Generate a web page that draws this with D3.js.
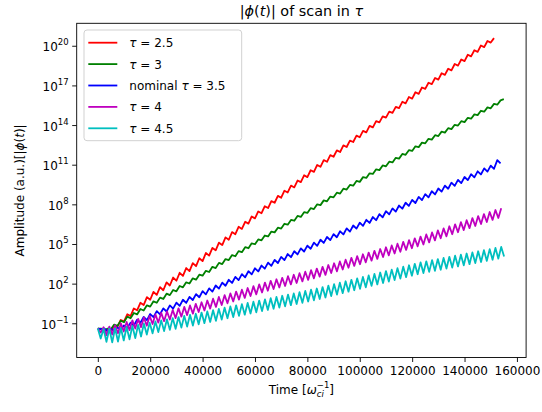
<!DOCTYPE html>
<html>
<head>
<meta charset="utf-8">
<script src="https://cdn.jsdelivr.net/npm/d3@7"></script>
<style>
  body { margin: 0; background: #fff; }
  text { font-family: "DejaVu Sans", sans-serif; fill: #000; }
</style>
</head>
<body>
<div id="chart"></div>
<script>
// sampling interval (time units) of each series
let redStep = 1250;
let greenStep = 1250;
let blueStep = 1250;
let magentaStep = 1100;
let cyanStep = 1100;

// log10 |phi(t)|
let redLog = [-1.40,-1.45,-1.60,-1.50,-1.52,-1.20,-1.25,-0.75,-0.85,-0.32,
  -0.45,0.12,-0.02,0.55,0.38,0.98,0.78,1.38,1.15,1.74,
  1.50,2.10,1.86,2.46,2.22,2.82,2.58,3.18,2.95,3.55,
  3.32,3.92,3.70,4.32,4.12,4.70,4.52,5.10,4.92,5.50,
  5.32,5.90,5.74,6.30,6.14,6.68,6.54,7.08,6.94,7.46,
  7.33,7.86,7.72,8.24,8.12,8.64,8.50,9.03,8.90,9.42,
  9.28,9.80,9.68,10.20,10.06,10.58,10.46,10.98,10.84,11.35,
  11.22,11.72,11.60,12.08,11.96,12.46,12.34,12.82,12.72,13.20,
  13.08,13.56,13.45,13.94,13.82,14.30,14.20,14.66,14.56,15.02,
  14.92,15.38,15.28,15.76,15.64,16.12,16.00,16.48,16.36,16.84,
  16.74,17.20,17.10,17.56,17.44,17.92,17.80,18.26,18.14,18.62,
  18.50,18.96,18.84,19.32,19.20,19.66,19.54,20.02,19.90,20.36,
  20.24,20.58];

let greenLog = [-1.40,-1.40,-1.55,-1.40,-1.45,-1.10,-1.20,-0.80,-0.92,-0.50,
  -0.62,-0.22,-0.33,0.08,-0.03,0.36,0.26,0.66,0.55,0.94,
  0.84,1.24,1.13,1.52,1.42,1.82,1.72,2.10,2.01,2.40,
  2.30,2.68,2.60,2.97,2.88,3.27,3.18,3.57,3.48,3.86,
  3.78,4.16,4.07,4.46,4.38,4.76,4.68,5.05,4.98,5.34,
  5.28,5.64,5.57,5.94,5.88,6.23,6.17,6.53,6.46,6.82,
  6.76,7.12,7.05,7.41,7.35,7.71,7.64,8.00,7.94,8.30,
  8.23,8.59,8.53,8.88,8.82,9.18,9.12,9.47,9.41,9.77,
  9.70,10.06,10.00,10.35,10.30,10.65,10.59,10.94,10.88,11.23,
  11.17,11.52,11.46,11.81,11.75,12.10,12.04,12.39,12.33,12.67,
  12.62,12.96,12.90,13.23,13.17,13.50,13.43,13.76,13.69,14.02,
  13.96,14.29,14.22,14.55,14.48,14.81,14.75,15.08,15.01,15.34,
  15.27,15.60,15.54,15.87,15.96];

let blueLog = [-1.40,-1.45,-1.40,-1.60,-1.42,-1.58,-1.32,-1.48,-1.16,-1.35,
  -0.95,-1.17,-0.73,-0.97,-0.52,-0.76,-0.30,-0.54,-0.08,-0.32,
  0.13,-0.11,0.35,0.11,0.56,0.32,0.78,0.54,1.00,0.76,
  1.21,0.97,1.43,1.19,1.64,1.40,1.86,1.62,2.08,1.84,
  2.29,2.05,2.51,2.27,2.72,2.48,2.94,2.70,3.16,2.92,
  3.37,3.13,3.59,3.35,3.80,3.56,4.02,3.78,4.24,4.00,
  4.45,4.21,4.67,4.43,4.88,4.64,5.10,4.86,5.32,5.08,
  5.53,5.29,5.75,5.51,5.96,5.72,6.18,5.94,6.40,6.16,
  6.61,6.37,6.83,6.59,7.04,6.80,7.26,7.02,7.48,7.24,
  7.69,7.45,7.91,7.67,8.12,7.88,8.34,8.10,8.56,8.32,
  8.77,8.53,8.99,8.75,9.20,8.96,9.42,9.18,9.64,9.40,
  9.85,9.61,10.07,9.83,10.28,10.04,10.50,10.26,10.72,10.48,
  10.93,10.69,11.35,11.10];

let magentaLog = [-1.40,-1.70,-1.30,-1.90,-1.25,-1.85,-1.15,-1.75,-1.01,-1.62,
  -0.90,-1.52,-0.78,-1.40,-0.67,-1.30,-0.56,-1.18,-0.44,-1.06,
  -0.33,-0.95,-0.21,-0.84,-0.10,-0.72,0.01,-0.61,0.13,-0.50,
  0.24,-0.38,0.35,-0.27,0.47,-0.15,0.59,-0.03,0.72,0.11,
  0.86,0.24,0.99,0.38,1.13,0.51,1.26,0.65,1.40,0.79,
  1.54,0.92,1.67,1.06,1.81,1.19,1.94,1.33,2.08,1.46,
  2.21,1.59,2.33,1.71,2.44,1.82,2.56,1.94,2.67,2.05,
  2.79,2.17,2.90,2.28,3.02,2.40,3.14,2.53,3.27,2.66,
  3.41,2.80,3.54,2.93,3.68,3.07,3.81,3.20,3.95,3.34,
  4.08,3.47,4.22,3.61,4.35,3.74,4.48,3.87,4.62,4.01,
  4.75,4.14,4.89,4.28,5.02,4.41,5.16,4.55,5.29,4.68,
  5.43,4.82,5.56,4.96,5.72,5.12,5.87,5.27,6.03,5.43,
  6.18,5.58,6.34,5.74,6.49,5.89,6.65,6.05,6.80,6.20,
  6.96,6.36,7.11,6.51,7.26,6.66,7.42,6.82,7.57,6.97,
  7.70];

let cyanLog = [-1.40,-2.15,-1.43,-2.40,-1.41,-2.45,-1.38,-2.38,-1.36,-2.30,
  -1.28,-2.22,-1.20,-2.12,-1.12,-2.00,-1.03,-1.85,-0.95,-1.76,
  -0.86,-1.67,-0.78,-1.59,-0.70,-1.50,-0.61,-1.42,-0.53,-1.33,
  -0.44,-1.25,-0.36,-1.17,-0.28,-1.08,-0.19,-0.99,-0.10,-0.90,
  -0.01,-0.81,0.09,-0.72,0.18,-0.62,0.27,-0.53,0.36,-0.44,
  0.45,-0.35,0.54,-0.26,0.63,-0.17,0.72,-0.08,0.81,0.01,
  0.90,0.10,0.99,0.19,1.08,0.28,1.17,0.37,1.26,0.46,
  1.35,0.55,1.45,0.65,1.54,0.74,1.63,0.84,1.74,0.95,
  1.85,1.06,1.96,1.17,2.07,1.28,2.18,1.39,2.29,1.50,
  2.40,1.61,2.51,1.72,2.62,1.83,2.73,1.94,2.84,2.05,
  2.95,2.16,3.06,2.27,3.17,2.38,3.28,2.49,3.39,2.60,
  3.50,2.71,3.61,2.80,3.69,2.89,3.78,2.97,3.86,3.05,
  3.94,3.14,4.03,3.22,4.11,3.30,4.19,3.39,4.28,3.47,
  4.36,3.56,4.45,3.64,4.53,3.72,4.61,3.81,4.70,3.89,
  4.78,4.05];

// legend labels: [plain prefix, italic symbol, plain suffix]
let labels = [["", "τ", " = 2.5"], ["", "τ", " = 3"], ["nominal ", "τ", " = 3.5"], ["", "τ", " = 4"], ["", "τ", " = 4.5"]];
let xTicks = [0, 20000, 40000, 60000, 80000, 100000, 120000, 140000, 160000];
let yTickExps = [-1, 2, 5, 8, 11, 14, 17, 20];

let series = [
  { vals: redLog, step: redStep, color: "#ff0000" },
  { vals: greenLog, step: greenStep, color: "#008000" },
  { vals: blueLog, step: blueStep, color: "#0000ff" },
  { vals: magentaLog, step: magentaStep, color: "#bf00bf" },
  { vals: cyanLog, step: cyanStep, color: "#00bfbf" }
];

let width = 542;
let height = 412;
let m = { left: 76.7, right: 526.1, top: 23.3, bottom: 357.5 };

let x = d3.scaleLinear().domain([-8060, 163500]).range([m.left, m.right]);
let y = d3.scaleLog().domain([Math.pow(10, -3.59), Math.pow(10, 21.7)]).range([m.bottom, m.top]);

let svg = d3.select("#chart").append("svg")
  .attr("width", width)
  .attr("height", height);

svg.append("defs").append("clipPath").attr("id", "clip")
  .append("rect")
  .attr("x", m.left).attr("y", m.top)
  .attr("width", m.right - m.left).attr("height", m.bottom - m.top);

// curves
let plot = svg.append("g").attr("clip-path", "url(#clip)");
series.forEach(function(s) {
  let line = d3.line()
    .x(function(d, i) { return x(i * s.step); })
    .y(function(d) { return y(Math.pow(10, d)); });
  plot.append("path")
    .datum(s.vals)
    .attr("d", line)
    .attr("fill", "none")
    .attr("stroke", s.color)
    .attr("stroke-width", 1.8)
    .attr("stroke-linejoin", "round");
});

// axes
let xAxis = svg.append("g")
  .attr("transform", "translate(0," + m.bottom + ")")
  .call(d3.axisBottom(x).tickValues(xTicks).tickSize(4.5).tickSizeOuter(0).tickPadding(4).tickFormat(d3.format("d")));
xAxis.select(".domain").remove();
xAxis.selectAll("text").style("font-size", "12px").style("font-family", "DejaVu Sans");
xAxis.selectAll("line").attr("stroke", "#000").attr("stroke-width", 0.9);

let yAxis = svg.append("g")
  .attr("transform", "translate(" + m.left + ",0)")
  .call(d3.axisLeft(y).tickValues(yTickExps.map(function(e) { return Math.pow(10, e); })).tickSize(4.5).tickSizeOuter(0).tickFormat(""));
yAxis.select(".domain").remove();
yAxis.selectAll("line").attr("stroke", "#000").attr("stroke-width", 0.9);

// power-of-ten labels
yTickExps.forEach(function(e) {
  let t = svg.append("text")
    .attr("x", m.left - 8)
    .attr("y", y(Math.pow(10, e)) + 5.5)
    .attr("text-anchor", "end")
    .style("font-size", "12px");
  t.append("tspan").text("10");
  t.append("tspan").attr("dy", -6).style("font-size", "8.5px").text(String(e).replace("-", "−"));
});

// frame
svg.append("rect")
  .attr("x", m.left).attr("y", m.top)
  .attr("width", m.right - m.left).attr("height", m.bottom - m.top)
  .attr("fill", "none")
  .attr("stroke", "#000")
  .attr("stroke-width", 0.9);

// title
let title = svg.append("text")
  .attr("x", (m.left + m.right) / 2)
  .attr("y", 16)
  .attr("text-anchor", "middle")
  .style("font-size", "14.4px");
title.append("tspan").text("|");
title.append("tspan").style("font-style", "italic").text("ϕ");
title.append("tspan").text("(");
title.append("tspan").style("font-style", "italic").text("t");
title.append("tspan").text(")| of scan in ");
title.append("tspan").style("font-style", "italic").text("τ");

// x label
let xl = svg.append("text")
  .attr("x", (m.left + m.right) / 2)
  .attr("y", 394)
  .attr("text-anchor", "middle")
  .style("font-size", "12px");
xl.append("tspan").text("Time [");
xl.append("tspan").style("font-style", "italic").text("ω");
xl.append("tspan").style("font-style", "italic").style("font-size", "8.5px").attr("dy", 3).text("ci");
xl.append("tspan").style("font-size", "8.5px").attr("dx", -7).attr("dy", -9).text("−1");
xl.append("tspan").attr("dy", 6).text("]");

// y label
let yl = svg.append("text")
  .attr("transform", "translate(24," + ((m.top + m.bottom) / 2) + ") rotate(-90)")
  .attr("text-anchor", "middle")
  .style("font-size", "12px");
yl.append("tspan").text("Amplitude (a.u.)[|");
yl.append("tspan").style("font-style", "italic").text("ϕ");
yl.append("tspan").text("(");
yl.append("tspan").style("font-style", "italic").text("t");
yl.append("tspan").text(")|");

// legend
let legend = svg.append("g").attr("transform", "translate(84,30)");
legend.append("rect")
  .attr("width", 157.7).attr("height", 110.7)
  .attr("rx", 3)
  .attr("fill", "#fff").attr("fill-opacity", 0.8)
  .attr("stroke", "#cccccc").attr("stroke-width", 0.9);

let rows = legend.selectAll(".row")
  .data(series)
  .enter().append("g")
  .attr("class", "row")
  .attr("transform", function(d, i) { return "translate(0," + (12.7 + i * 21.4) + ")"; });
rows.append("line")
  .attr("x1", 4.3).attr("x2", 33.3)
  .attr("stroke", function(d) { return d.color; })
  .attr("stroke-width", 1.8);
rows.each(function(d, i) {
  let t = d3.select(this).append("text")
    .attr("x", 45.3).attr("y", 4.5)
    .style("font-size", "12px");
  t.append("tspan").text(labels[i][0]);
  t.append("tspan").style("font-style", "italic").text(labels[i][1]);
  t.append("tspan").text(labels[i][2]);
});
</script>
</body>
</html>
